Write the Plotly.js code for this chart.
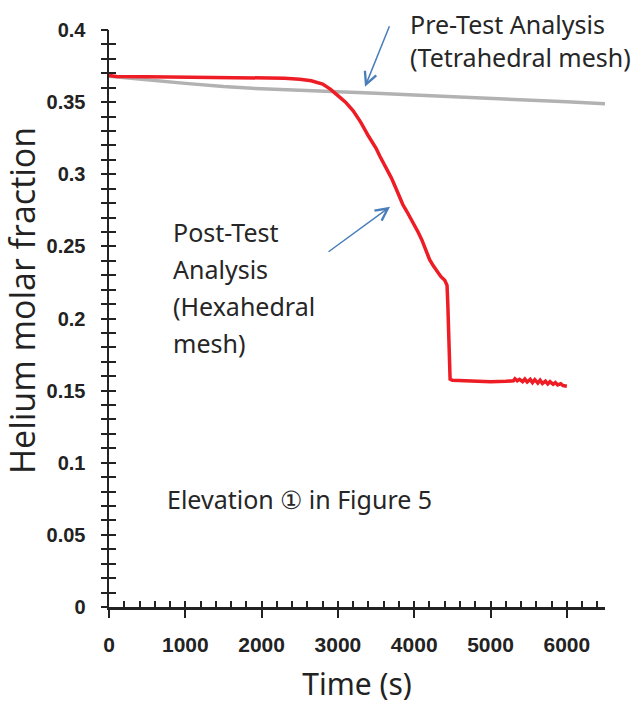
<!DOCTYPE html>
<html>
<head>
<meta charset="utf-8">
<script src="https://cdn.plot.ly/plotly-3.0.1.min.js"></script>
<style>html,body{margin:0;padding:0;background:#fff;}#chart{width:642px;height:709px;}</style>
</head>
<body>
<div id="chart"></div>
<script>
// Pre-Test Analysis (Tetrahedral mesh)
const preTime = [0, 200, 500, 1000, 1500, 2000, 2500, 3000, 3500, 4000, 4500, 5000, 5500, 6000, 6500];
const preFrac = [0.3680, 0.3672, 0.3655, 0.3630, 0.3608, 0.3592, 0.3583, 0.3572, 0.3561, 0.3549, 0.3538, 0.3527, 0.3514, 0.3502, 0.3488];

// Post-Test Analysis (Hexahedral mesh)
const postTime = [0, 100, 500, 1000, 1500, 2000, 2300, 2500, 2650, 2800, 2900, 3000, 3100, 3200, 3300, 3400, 3450, 3500, 3550, 3600, 3650, 3700, 3750, 3800, 3850, 3900, 3950, 4000, 4050, 4100, 4150, 4200, 4250, 4300, 4350, 4400, 4430, 4440, 4450, 4460, 4470, 4500, 4600, 4800, 5000, 5200, 5300, 5320, 5350, 5380, 5420, 5450, 5480, 5520, 5550, 5580, 5620, 5650, 5680, 5720, 5750, 5780, 5820, 5850, 5880, 5920, 5950, 6000];
const postFrac = [0.3685, 0.3678, 0.3676, 0.3674, 0.3672, 0.3670, 0.3666, 0.3659, 0.3648, 0.3625, 0.3590, 0.3545, 0.3500, 0.3440, 0.3360, 0.3265, 0.3225, 0.3180, 0.3125, 0.3075, 0.3030, 0.2975, 0.2915, 0.2850, 0.2790, 0.2745, 0.2700, 0.2650, 0.2600, 0.2545, 0.2480, 0.2410, 0.2365, 0.2325, 0.2290, 0.2265, 0.2230, 0.2100, 0.1900, 0.1700, 0.1580, 0.1572, 0.1570, 0.1566, 0.1562, 0.1565, 0.1568, 0.1582, 0.1568, 0.1578, 0.1562, 0.1580, 0.1560, 0.1578, 0.1556, 0.1576, 0.1552, 0.1572, 0.1550, 0.1566, 0.1546, 0.1562, 0.1544, 0.1556, 0.1540, 0.1548, 0.1535, 0.1530];

const xTickVals = [0, 1000, 2000, 3000, 4000, 5000, 6000];
const xTickText = ['0', '1000', '2000', '3000', '4000', '5000', '6000'];
const yTickVals = [0, 0.05, 0.1, 0.15, 0.2, 0.25, 0.3, 0.35, 0.4];
const yTickText = ['0', '0.05', '0.1', '0.15', '0.2', '0.25', '0.3', '0.35', '0.4'];
const xTitle = 'Time (s)';
const yTitle = 'Helium molar fraction';

const xTickFont = {family: '"Liberation Sans", Arial, sans-serif', size: 21, weight: 'bold', color: '#222'};
const yTickFont = {family: '"Liberation Sans", Arial, sans-serif', size: 20, weight: 'bold', color: '#222'};
const txtFont = {family: '"Noto Sans", "Open Sans", sans-serif', size: 25, color: '#262626'};
const axisColor = '#222';

const ghost = {mode: 'lines', opacity: 0, showlegend: false, hoverinfo: 'skip', line: {width: 0}};
const traces = [
  {x: preTime, y: preFrac, mode: 'lines', name: 'Pre-Test Analysis (Tetrahedral mesh)',
   line: {color: '#b2b2b2', width: 3.5}, hoverinfo: 'skip'},
  {x: postTime, y: postFrac, mode: 'lines', name: 'Post-Test Analysis (Hexahedral mesh)',
   line: {color: '#ee1c25', width: 3.5}, hoverinfo: 'skip'},
  Object.assign({x: preTime, y: preFrac, xaxis: 'x2', yaxis: 'y2'}, ghost),
  Object.assign({x: preTime, y: preFrac, xaxis: 'x2', yaxis: 'y3'}, ghost)
];

function px2x(p) { return (p - 109) / 496; }
function px2y(p) { return (607 - p) / 577; }

function label(text, left, cy) {
  return {text: text, xref: 'paper', yref: 'paper', x: px2x(left), y: px2y(cy),
          xanchor: 'left', yanchor: 'middle', showarrow: false, font: txtFont};
}

const layout = {
  width: 642, height: 709,
  margin: {l: 109, r: 37, t: 30, b: 102},
  paper_bgcolor: '#fff', plot_bgcolor: '#fff',
  showlegend: false,
  xaxis: {
    range: [0, 6500], showgrid: false, zeroline: false,
    showline: true, linecolor: axisColor, linewidth: 2.5,
    tickmode: 'array', tickvals: xTickVals, ticktext: xTickText,
    ticks: 'outside', ticklen: 8, tickwidth: 2, tickcolor: axisColor,
    ticklabelstandoff: 9, tickfont: xTickFont,
    title: {text: xTitle, font: {family: '"Noto Sans", "Open Sans", sans-serif', size: 30, color: '#222'}, standoff: 20}
  },
  yaxis: {
    range: [0, 0.4], showgrid: false, zeroline: false,
    showline: true, linecolor: axisColor, linewidth: 2.5,
    tickmode: 'array', tickvals: yTickVals, ticktext: yTickText,
    ticks: 'outside', ticklen: 17, tickwidth: 1, tickcolor: 'rgba(0,0,0,0)',
    tickfont: yTickFont
  },
  xaxis2: {
    overlaying: 'x', anchor: 'y2', side: 'bottom', range: [0, 6500],
    showgrid: false, zeroline: false, showline: false, showticklabels: false,
    dtick: 200, tick0: 0, ticks: 'inside', ticklen: 6, tickwidth: 2, tickcolor: axisColor
  },
  yaxis2: {
    overlaying: 'y', anchor: 'x2', side: 'left', range: [0, 0.4],
    showgrid: false, zeroline: false, showline: false, showticklabels: false,
    dtick: 0.01, tick0: 0, ticks: 'outside', ticklen: 7, tickwidth: 2, tickcolor: axisColor
  },
  yaxis3: {
    overlaying: 'y', anchor: 'x2', side: 'left', range: [0, 0.4],
    showgrid: false, zeroline: false, showline: false, showticklabels: false,
    dtick: 0.01, tick0: 0, ticks: 'inside', ticklen: 7, tickwidth: 2, tickcolor: axisColor
  },
  annotations: [
    {text: yTitle, xref: 'paper', yref: 'paper', x: px2x(22), y: px2y(301),
     xanchor: 'center', yanchor: 'middle', textangle: -90, showarrow: false,
     font: {family: '"Open Sans", "Noto Sans", sans-serif', size: 34, color: '#222'}},
    label('Pre-Test Analysis', 408, 24),
    label('(Tetrahedral mesh)', 408, 57),
    label('Post-Test', 171, 232),
    label('Analysis', 171, 269),
    label('(Hexahedral', 171, 306),
    label('mesh)', 171, 343),
    label('Elevation \u2460 in Figure 5', 165, 499),
    {x: 3355, y: 0.3606, xref: 'x', yref: 'y', ax: 25, ay: -62, text: '', showarrow: true,
     arrowhead: 5, arrowsize: 1.6, arrowwidth: 1.5, arrowcolor: '#4a7ebb'},
    {x: 3683, y: 0.2774, xref: 'x', yref: 'y', ax: -63, ay: 46, text: '', showarrow: true,
     arrowhead: 5, arrowsize: 1.6, arrowwidth: 1.5, arrowcolor: '#4a7ebb'}
  ]
};

Plotly.newPlot('chart', traces, layout, {staticPlot: true, displayModeBar: false});
</script>
</body>
</html>
